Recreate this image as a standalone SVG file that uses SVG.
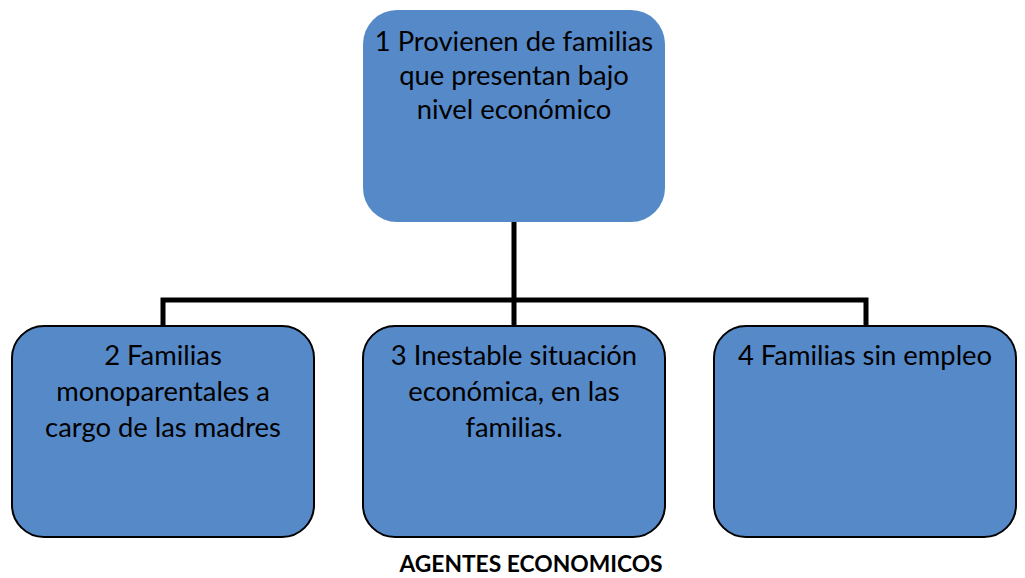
<svg xmlns="http://www.w3.org/2000/svg" width="1025" height="578" viewBox="0 0 1025 578">
<style>
.box{fill:#5689C8;}
.child{stroke:#000;stroke-width:2;}
.t{font-family:Lato,"Liberation Sans",sans-serif;font-size:27.4px;fill:#000;text-anchor:middle;}
.title{font-family:Lato,"Liberation Sans",sans-serif;font-size:22.8px;font-weight:bold;fill:#000;text-anchor:middle;}
.conn{fill:none;stroke:#000;stroke-width:5;}
</style>
<rect width="1025" height="578" fill="#fff"/>
<g id="connectors">
<path class="conn" d="M514 222 V300 M163 326 V300 H866 V326 M514 300 V326"/>
</g>
<g id="node1">
<rect class="box" x="363" y="10" width="302" height="212" rx="34"/>
<text class="t" x="514" y="51">1 Provienen de familias</text>
<text class="t" x="514" y="85">que presentan bajo</text>
<text class="t" x="514" y="119">nivel económico</text>
</g>
<g id="node2">
<rect class="box child" x="12" y="326" width="302" height="211" rx="32"/>
<text class="t" x="163" y="365">2 Familias</text>
<text class="t" x="163" y="401">monoparentales a</text>
<text class="t" x="163" y="437">cargo de las madres</text>
</g>
<g id="node3">
<rect class="box child" x="363" y="326" width="302" height="211" rx="32"/>
<text class="t" x="514" y="365">3 Inestable situación</text>
<text class="t" x="514" y="401">económica, en las</text>
<text class="t" x="514" y="437">familias.</text>
</g>
<g id="node4">
<rect class="box child" x="714" y="326" width="302" height="211" rx="32"/>
<text class="t" x="865" y="365">4 Familias sin empleo</text>
</g>
<text class="title" x="531" y="572">AGENTES ECONOMICOS</text>
</svg>
